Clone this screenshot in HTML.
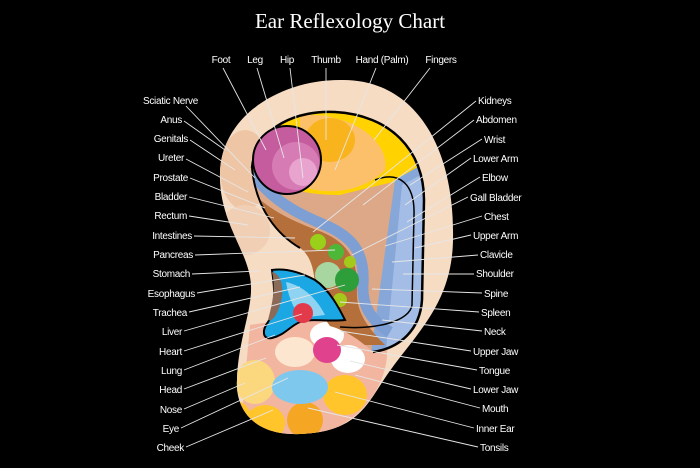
<!DOCTYPE html>
<html><head><meta charset="utf-8"><style>
html,body{margin:0;padding:0;background:#000;}
svg{display:block}
text{font-family:"Liberation Sans",sans-serif;font-size:10px;fill:#fff;letter-spacing:-0.3px}
.l{text-anchor:end}
line{stroke:#e6e6e6;stroke-width:0.9}
</style></head><body>
<svg width="700" height="468" viewBox="0 0 700 468" xmlns="http://www.w3.org/2000/svg">
<rect width="700" height="468" fill="#000"/>
<text x="350" y="28" style="font-family:'Liberation Serif',serif;font-size:21px;text-anchor:middle;letter-spacing:0">Ear Reflexology Chart</text>
<defs>
<clipPath id="ear"><path d="M340 80 C410 78 455 140 453 240 C452 300 420 330 392 368 C368 400 362 432 300 434 C255 436 235 410 237 380 C238 340 252 312 251 286 C250 252 218 222 220 172 C222 116 280 80 340 80 Z"/></clipPath>
<clipPath id="inn"><path d="M252 168 C256 125 300 110 335 112 C390 115 424 150 424 200 L422 300 C420 330 400 348 373 352 C360 340 345 330 330 326 C322 315 316 300 315 285 C314 268 310 255 300 248 C278 235 256 210 252 168 Z"/></clipPath>
</defs>
<path d="M340 80 C410 78 455 140 453 240 C452 300 420 330 392 368 C368 400 362 432 300 434 C255 436 235 410 237 380 C238 340 252 312 251 286 C250 252 218 222 220 172 C222 116 280 80 340 80 Z" fill="#f7dcc4"/>
<g clip-path="url(#ear)">
<ellipse cx="245" cy="170" rx="25" ry="40" fill="#eec6a6"/>
<ellipse cx="245" cy="230" rx="25" ry="25" fill="#f0cfb4"/>
<path d="M250 325 C290 318 350 318 385 335 C395 370 370 420 320 434 L240 434 Z" fill="#f2b6a0"/>
<ellipse cx="255" cy="382" rx="20" ry="22" fill="#fbd77e"/>
<ellipse cx="232" cy="420" rx="20" ry="20" fill="#ffc52a"/>
<ellipse cx="265" cy="423" rx="20" ry="18" fill="#ffc52a"/>
<ellipse cx="305" cy="420" rx="18" ry="18" fill="#f5a623"/>
<ellipse cx="345" cy="395" rx="22" ry="20" fill="#ffc52a"/>
<ellipse cx="300" cy="387" rx="28" ry="17" fill="#7ec8ee"/>
<ellipse cx="295" cy="352" rx="20" ry="15" fill="#fde6cf"/>
<ellipse cx="327" cy="335" rx="17" ry="13" fill="#fff"/>
<ellipse cx="348" cy="359" rx="17" ry="14" fill="#fff"/>
<ellipse cx="327" cy="350" rx="14" ry="13" fill="#e0428e"/>
</g>
<g clip-path="url(#inn)">
<rect x="240" y="100" width="200" height="260" fill="#dca887"/>
<path d="M250 100 L430 100 L430 175 C400 180 380 185 340 195 C300 195 270 185 250 170 Z" fill="#ffd200"/>
<path d="M300 115 C350 112 390 140 385 170 C360 195 320 195 300 185 Z" fill="#fcc06a"/>
<ellipse cx="330" cy="140" rx="25" ry="22" fill="#f9b31c"/>
<path d="M395 180 L430 160 L430 360 L370 360 Z" fill="#86a7d8"/>
<path d="M402 185 L430 170 L430 360 L385 360 Z" fill="#a3bde6"/>
<path d="M240 180 C265 210 295 222 322 232 C350 244 358 262 357 290 C356 310 365 325 385 345 L240 345 Z" fill="#b56f3a"/>
<path d="M252 172 C270 200 300 215 325 225 C355 238 365 255 363 285 C362 305 370 320 390 332" fill="none" stroke="#7e9fd4" stroke-width="11"/>
<circle cx="318" cy="242" r="8" fill="#9ad01a"/>
<circle cx="336" cy="252" r="8" fill="#4db838"/>
<circle cx="350" cy="262" r="6" fill="#a3c91a"/>
<circle cx="328" cy="275" r="13" fill="#a8d6a0"/>
<circle cx="347" cy="280" r="12" fill="#2e9e3a"/>
<circle cx="340" cy="300" r="7" fill="#a3c91a"/>
</g>
<path d="M252 168 C256 125 300 110 335 112 C390 115 424 150 424 200 L422 300 C420 330 400 348 373 352" fill="none" stroke="#000" stroke-width="2.5"/>
<path d="M252 168 C256 210 278 235 300 248" fill="none" stroke="#000" stroke-width="2"/>
<path d="M375 180 C400 170 415 185 414 215 L412 305 C410 320 380 330 340 327" fill="none" stroke="#000" stroke-width="1.5"/>
<circle cx="287" cy="160" r="34" fill="#c45c9e"/>
<circle cx="296" cy="166" r="24" fill="#d77bb5"/>
<circle cx="303" cy="172" r="14" fill="#e9a3cf"/>
<circle cx="287" cy="160" r="34" fill="none" stroke="#000" stroke-width="2"/>
<path d="M272 270 C285 268 300 272 315 280 C330 290 340 310 345 320 C330 322 310 318 300 322 C290 326 285 335 272 338 C262 340 262 330 268 322 C276 310 275 290 272 270 Z" fill="#1aa7e3" stroke="#000" stroke-width="2"/>
<path d="M272 272 C282 274 285 290 280 305 C277 315 272 322 268 320 C272 305 276 288 272 272 Z" fill="#8b6a58"/>
<path d="M286 282 C300 285 315 295 325 315 L300 318 C292 305 288 295 286 282 Z" fill="#8ed3f2"/>
<circle cx="303" cy="313" r="10" fill="#e23a4a"/>
<g>
<text x="221" y="63" style="text-anchor:middle">Foot</text>
<text x="255" y="63" style="text-anchor:middle">Leg</text>
<text x="287" y="63" style="text-anchor:middle">Hip</text>
<text x="326" y="63" style="text-anchor:middle">Thumb</text>
<text x="382" y="63" style="text-anchor:middle">Hand (Palm)</text>
<text x="441" y="63" style="text-anchor:middle">Fingers</text>
<line x1="223" y1="68" x2="266" y2="150"/>
<line x1="257" y1="68" x2="284" y2="158"/>
<line x1="290" y1="68" x2="303" y2="178"/>
<line x1="326" y1="68" x2="326" y2="140"/>
<line x1="376" y1="68" x2="335" y2="170"/>
<line x1="430" y1="68" x2="374" y2="140"/>
</g>
<g>
<text class="l" x="198" y="104">Sciatic Nerve</text>
<text class="l" x="182" y="123">Anus</text>
<text class="l" x="188" y="142">Genitals</text>
<text class="l" x="184" y="161">Ureter</text>
<text class="l" x="188" y="181">Prostate</text>
<text class="l" x="187" y="200">Bladder</text>
<text class="l" x="187" y="219">Rectum</text>
<text class="l" x="192" y="239">Intestines</text>
<text class="l" x="193" y="258">Pancreas</text>
<text class="l" x="190" y="277">Stomach</text>
<text class="l" x="195" y="297">Esophagus</text>
<text class="l" x="187" y="316">Trachea</text>
<text class="l" x="182" y="335">Liver</text>
<text class="l" x="182" y="355">Heart</text>
<text class="l" x="182" y="374">Lung</text>
<text class="l" x="182" y="393">Head</text>
<text class="l" x="182" y="413">Nose</text>
<text class="l" x="179" y="432">Eye</text>
<text class="l" x="184" y="451">Cheek</text>
<line x1="186" y1="106" x2="255" y2="178"/>
<line x1="184" y1="121" x2="225" y2="150"/>
<line x1="190" y1="140" x2="235" y2="170"/>
<line x1="186" y1="159" x2="248" y2="192"/>
<line x1="190" y1="178" x2="265" y2="208"/>
<line x1="189" y1="197" x2="274" y2="218"/>
<line x1="189" y1="216" x2="248" y2="225"/>
<line x1="194" y1="236" x2="295" y2="238"/>
<line x1="195" y1="255" x2="335" y2="250"/>
<line x1="192" y1="274" x2="260" y2="271"/>
<line x1="197" y1="293" x2="305" y2="275"/>
<line x1="189" y1="312" x2="300" y2="287"/>
<line x1="184" y1="331" x2="345" y2="285"/>
<line x1="184" y1="351" x2="302" y2="314"/>
<line x1="184" y1="370" x2="275" y2="335"/>
<line x1="184" y1="389" x2="266" y2="358"/>
<line x1="184" y1="409" x2="245" y2="383"/>
<line x1="181" y1="428" x2="288" y2="378"/>
<line x1="186" y1="447" x2="273" y2="410"/>
</g>
<g>
<text x="478" y="104">Kidneys</text>
<text x="476" y="123">Abdomen</text>
<text x="484" y="143">Wrist</text>
<text x="473" y="162">Lower Arm</text>
<text x="482" y="181">Elbow</text>
<text x="470" y="201">Gall Bladder</text>
<text x="484" y="220">Chest</text>
<text x="473" y="239">Upper Arm</text>
<text x="480" y="258">Clavicle</text>
<text x="476" y="277">Shoulder</text>
<text x="484" y="297">Spine</text>
<text x="481" y="316">Spleen</text>
<text x="484" y="335">Neck</text>
<text x="473" y="355">Upper Jaw</text>
<text x="479" y="374">Tongue</text>
<text x="473" y="393">Lower Jaw</text>
<text x="482" y="412">Mouth</text>
<text x="476" y="432">Inner Ear</text>
<text x="480" y="451">Tonsils</text>
<line x1="476" y1="101" x2="313" y2="232"/>
<line x1="474" y1="120" x2="363" y2="205"/>
<line x1="482" y1="139" x2="410" y2="185"/>
<line x1="471" y1="158" x2="405" y2="205"/>
<line x1="480" y1="177" x2="407" y2="222"/>
<line x1="468" y1="197" x2="352" y2="255"/>
<line x1="482" y1="216" x2="385" y2="246"/>
<line x1="471" y1="235" x2="415" y2="248"/>
<line x1="478" y1="255" x2="392" y2="262"/>
<line x1="474" y1="274" x2="403" y2="274"/>
<line x1="482" y1="293" x2="372" y2="289"/>
<line x1="479" y1="312" x2="340" y2="302"/>
<line x1="482" y1="331" x2="382" y2="320"/>
<line x1="471" y1="351" x2="340" y2="331"/>
<line x1="477" y1="370" x2="337" y2="345"/>
<line x1="471" y1="389" x2="350" y2="361"/>
<line x1="480" y1="408" x2="355" y2="375"/>
<line x1="474" y1="428" x2="335" y2="392"/>
<line x1="478" y1="447" x2="308" y2="408"/>
</g>
</svg>
</body></html>
